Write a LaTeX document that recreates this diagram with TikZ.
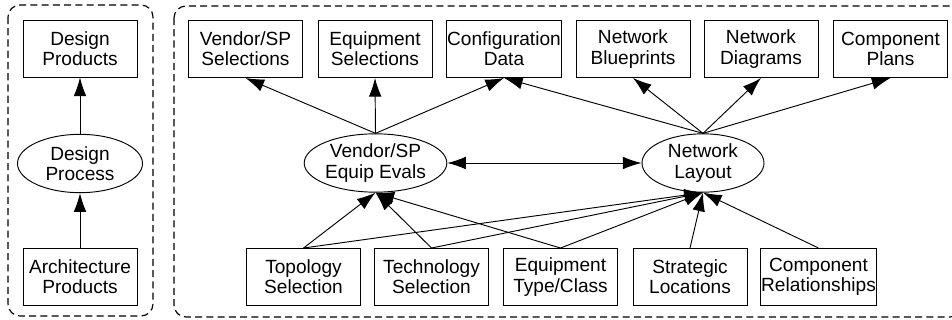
\documentclass[tikz,border=0pt]{standalone}
\usepackage{fontspec}
\setmainfont{Liberation Sans}
\usetikzlibrary{shapes.geometric,arrows.meta}

\tikzset{
	box/.style={draw, line width=0.8pt, minimum width=3.42cm, minimum height=1.71cm, inner sep=0.5pt, align=center, font=\fontsize{16.3}{17.2}\selectfont},
	oval/.style={draw, ellipse, line width=0.8pt, minimum width=3.8cm, minimum height=1.75cm, inner sep=0pt, align=center, font=\fontsize{16.3}{17.2}\selectfont},
	flow/.style={line width=0.8pt, >={Latex[length=0.56cm,width=0.38cm]}, ->},
	group/.style={line width=1pt, dash pattern=on 6pt off 3.6pt, rounded corners=0.36cm}
}

\begin{document}
\begin{tikzpicture}[x=0.03cm, y=-0.03cm]
		\useasboundingbox (0,0) rectangle (952,320);

		\draw [group] (8,5) rectangle (153,316);
		\draw [group] (174,6) rectangle (962,317);

		\node [box] (dprod) at (80,48.5) {Design\\Products};
		\node [oval, minimum width=3.75cm] (dproc) at (80,163.5) {Design\\Process};
		\node [box] (aprod) at (80,277) {Architecture\\Products};

		\node [box] (vsel) at (245.5,49) {Vendor/SP\\Selections};
		\node [box] (esel) at (375,49) {Equipment\\Selections};
		\node [box] (conf) at (504,49) {Configuration\\Data};
		\node [box] (blue) at (633,49) {Network\\Blueprints};
		\node [box] (diag) at (761,49) {Network\\Diagrams};
		\node [box] (cplan) at (890.5,49) {Component\\Plans};

		\node [oval] (evals) at (375.5,163) {Vendor/SP\\Equip Evals};
		\node [oval, minimum width=3.66cm] (layout) at (703,163) {Network\\Layout};

		\node [box] (topo) at (303.5,277) {Topology\\Selection};
		\node [box] (tech) at (431.5,277) {Technology\\Selection};
		\node [box] (equip) at (560.5,277) {Equipment\\Type/Class};
		\node [box] (strat) at (690,277) {Strategic\\Locations};
		\node [box] (rel) at (818.5,277) {Component\\Relationships};

		\draw [flow] (aprod.north) -- (dproc.south);
		\draw [flow] (dproc.north) -- (dprod.south);

		\draw [flow] (evals.north) -- (vsel.south);
		\draw [flow] (evals.north) -- (esel.south);
		\draw [flow] (evals.north) -- (conf.south);
		\draw [flow] (layout.north) -- (conf.south);
		\draw [flow] (layout.north) -- (blue.south);
		\draw [flow] (layout.north) -- (diag.south);
		\draw [flow] (layout.north) -- (cplan.south);

		\draw [flow, <->] (evals.east) -- (layout.west);

		\foreach \src in {topo,tech,equip} {
			\draw [flow] (\src.north) -- (evals.south);
			\draw [flow] (\src.north) -- (layout.south);
		}
		\draw [flow] (strat.north) -- (layout.south);
		\draw [flow] (rel.north) -- (layout.south);

		\end{tikzpicture}
\end{document}
